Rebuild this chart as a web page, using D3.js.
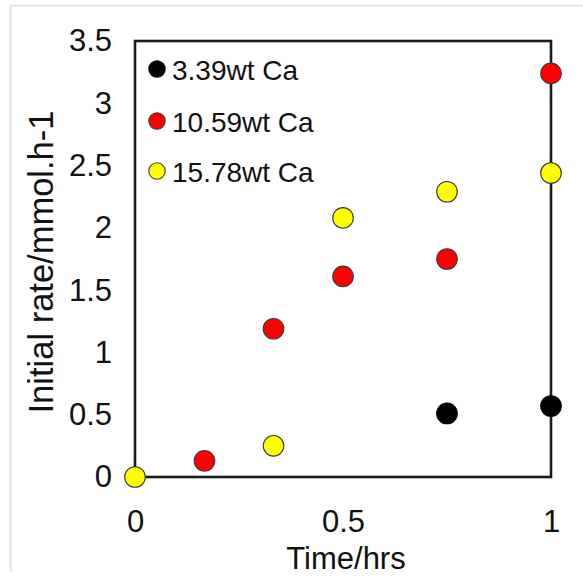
<!DOCTYPE html>
<html>
<head>
<meta charset="utf-8">
<script src="https://cdn.jsdelivr.net/npm/d3@7"></script>
<style>
  html, body { margin: 0; padding: 0; background: #fff; }
  svg { display: block; font-family: "Liberation Sans", Arial, sans-serif; }
</style>
</head>
<body>
<svg id="chart" width="583" height="581"></svg>
<script>
// Initial rate vs. time for three Ca loadings
const seriesNames = ["3.39wt Ca", "10.59wt Ca", "15.78wt Ca"];
const seriesColors = ["#000000", "#ff0000", "#ffff00"];

const blackTime = [0.75, 1];
const blackRate = [0.51, 0.57];

const redTime = [0.167, 0.333, 0.5, 0.75, 1];
const redRate = [0.13, 1.19, 1.61, 1.75, 3.24];

const yellowTime = [0, 0.333, 0.5, 0.75, 1];
const yellowRate = [0, 0.25, 2.08, 2.29, 2.44];

const xTicks = [0, 0.5, 1];
const yTicks = [0, 0.5, 1, 1.5, 2, 2.5, 3, 3.5];

const series = [
  { name: seriesNames[0], color: seriesColors[0], t: blackTime, r: blackRate },
  { name: seriesNames[1], color: seriesColors[1], t: redTime, r: redRate },
  { name: seriesNames[2], color: seriesColors[2], t: yellowTime, r: yellowRate }
];

const svg = d3.select("#chart");
const plot = { left: 135, right: 551, top: 41, bottom: 477 };

const x = d3.scaleLinear().domain([0, 1]).range([plot.left, plot.right]);
const y = d3.scaleLinear().domain([0, 3.5]).range([plot.bottom, plot.top]);

// clip everything to the figure area
svg.append("defs").append("clipPath").attr("id", "fig")
  .append("rect").attr("x", 0).attr("y", 0).attr("width", 583).attr("height", 572);
const g = svg.append("g").attr("clip-path", "url(#fig)");

// light outer frame
g.append("line").attr("x1", 10).attr("x2", 583).attr("y1", 5.8).attr("y2", 5.8)
  .attr("stroke", "#e3e3e3").attr("stroke-width", 2);
g.append("line").attr("x1", 10.7).attr("x2", 10.7).attr("y1", 5).attr("y2", 572)
  .attr("stroke", "#e3e3e3").attr("stroke-width", 2);

// plot frame
g.append("rect")
  .attr("x", plot.left).attr("y", plot.top)
  .attr("width", plot.right - plot.left).attr("height", plot.bottom - plot.top)
  .attr("fill", "none").attr("stroke", "#1a1a1a").attr("stroke-width", 2.6);

// y axis labels
const yAxis = d3.axisLeft(y).tickValues(yTicks).tickSize(0).tickPadding(23)
  .tickFormat(d3.format("~g"));
const yg = g.append("g").attr("transform", `translate(${plot.left},0)`).call(yAxis);
yg.select(".domain").remove();
yg.selectAll("text").attr("font-size", 31).attr("fill", "#111")
  .attr("font-family", "Liberation Sans, Arial, sans-serif");

// x axis labels
const xAxis = d3.axisBottom(x).tickValues(xTicks).tickSize(0).tickPadding(33)
  .tickFormat(d3.format("~g"));
const xg = g.append("g").attr("transform", `translate(0,${plot.bottom})`).call(xAxis);
xg.select(".domain").remove();
xg.selectAll("text").attr("font-size", 31).attr("fill", "#111")
  .attr("font-family", "Liberation Sans, Arial, sans-serif");

// axis titles
g.append("text")
  .attr("x", 346).attr("y", 569)
  .attr("text-anchor", "middle").attr("font-size", 31).attr("fill", "#111")
  .text("Time/hrs");
g.append("text")
  .attr("transform", "translate(53,262) rotate(-90)")
  .attr("text-anchor", "middle").attr("font-size", 34.5).attr("fill", "#111")
  .text("Initial rate/mmol.h-1");

// data points
series.forEach(s => {
  const pts = s.t.map((t, i) => ({ t, r: s.r[i] }));
  g.append("g").selectAll("circle").data(pts).join("circle")
    .attr("cx", d => x(d.t)).attr("cy", d => y(d.r)).attr("r", 10.3)
    .attr("fill", s.color)
    .attr("stroke", s.color === "#000000" ? "#000" : "#3a3a3a")
    .attr("stroke-width", 1.1);
});

// legend
const legend = g.append("g");
const legendY = [69, 121, 171];
series.forEach((s, i) => {
  legend.append("circle").attr("cx", 157).attr("cy", legendY[i]).attr("r", 8.2)
    .attr("fill", s.color)
    .attr("stroke", s.color === "#000000" ? "#000" : "#3a3a3a").attr("stroke-width", 1.1);
  legend.append("text").attr("x", 172).attr("y", legendY[i] + 11)
    .attr("font-size", 28).attr("fill", "#111").text(s.name);
});
</script>
</body>
</html>
